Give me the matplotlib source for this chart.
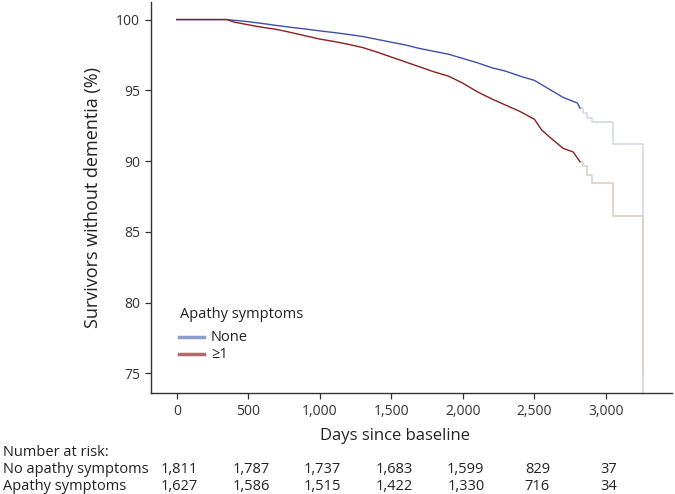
import matplotlib
matplotlib.use("Agg")
import matplotlib.pyplot as plt
import matplotlib.transforms as mtransforms
from matplotlib.lines import Line2D

plt.rcParams['font.family'] = ['Open Sans', 'DejaVu Sans']

# ---- data ----
days_none = [0, 350, 400, 500, 600, 700, 800, 900, 1000, 1100, 1200, 1300, 1400,
             1500, 1600, 1700, 1800, 1900, 2000, 2100, 2200, 2300, 2400, 2500,
             2600, 2700, 2750, 2800, 2818]
surv_none = [100, 100, 99.95, 99.85, 99.72, 99.58, 99.45, 99.33, 99.2, 99.08, 98.95,
             98.8, 98.6, 98.4, 98.2, 97.95, 97.75, 97.55, 97.25, 96.95, 96.6, 96.35,
             96.0, 95.7, 95.1, 94.5, 94.3, 94.1, 93.75]
tail_days_none = [2818, 2841, 2865, 2900, 3051, 3255]
tail_surv_none = [93.75, 93.41, 93.06, 92.75, 91.22, 73.0]

days_apathy = [0, 350, 400, 500, 600, 700, 800, 900, 1000, 1100, 1200, 1300, 1400,
               1500, 1600, 1700, 1800, 1900, 2000, 2100, 2200, 2300, 2400, 2500,
               2550, 2600, 2700, 2770, 2818]
surv_apathy = [100, 100, 99.82, 99.63, 99.45, 99.3, 99.08, 98.85, 98.62, 98.45, 98.25,
               98.02, 97.7, 97.35, 97.0, 96.65, 96.3, 96.0, 95.5, 94.9, 94.4, 93.95,
               93.5, 92.95, 92.2, 91.75, 90.9, 90.65, 89.96]
tail_days_apathy = [2818, 2841, 2865, 2900, 3051, 3255]
tail_surv_apathy = [89.96, 89.64, 89.05, 88.42, 86.11, 74.9]

xticks = [0, 500, 1000, 1500, 2000, 2500, 3000]
xtick_labels = ['0', '500', '1,000', '1,500', '2,000', '2,500', '3,000']
yticks = [75, 80, 85, 90, 95, 100]

legend_title = 'Apathy symptoms'
legend_labels = ['None', '\u22651']

risk_none = ['1,811', '1,787', '1,737', '1,683', '1,599', '829', '37']
risk_apathy = ['1,627', '1,586', '1,515', '1,422', '1,330', '716', '34']

# ---- styles ----
c_none = '#3d51a6'
c_apathy = '#8e1f1f'
c_none_tail = '#d3d9e6'
c_apathy_tail = '#dcd0c8'
c_none_leg = '#8c9bd2'
c_apathy_leg = '#b56a6a'

fig = plt.figure(figsize=(6.75, 4.94), dpi=100)
ax = fig.add_axes([151 / 675, 101 / 494, 521 / 675, 391 / 494])

ax.step(tail_days_none, tail_surv_none, where='post', color=c_none_tail, lw=1.2)
ax.step(tail_days_apathy, tail_surv_apathy, where='post', color=c_apathy_tail, lw=1.2)
ax.plot(days_none, surv_none, color=c_none, lw=1.0)
ax.plot(days_apathy, surv_apathy, color=c_apathy, lw=1.0)

ax.set_xlim(-180, 3461)
ax.set_ylim(73.62, 101.24)
ax.set_xticks(xticks)
ax.set_xticklabels(xtick_labels)
ax.set_yticks(yticks)
for s in ['top', 'right']:
    ax.spines[s].set_visible(False)
for s in ['left', 'bottom']:
    ax.spines[s].set_color('#333333')
    ax.spines[s].set_linewidth(1.0)
ax.tick_params(axis='both', direction='out', length=4, width=0.9, color='#333333',
               labelsize=10, labelcolor='#333333', pad=4)

ax.set_xlabel('Days since baseline', fontsize=12, color='#222222', labelpad=8)
ax.xaxis.set_label_coords((395 - 151) / 521, -0.09)
ax.set_ylabel('Survivors without dementia (%)', fontsize=13, color='#222222', labelpad=10)

# legend (placed in figure pixel positions matching the reference)
def fx(px):
    return px / 675
def fy(py):
    return 1 - py / 494

fig.text(fx(180), fy(314), legend_title, fontsize=10.5, va='center', ha='left', color='#222222')
for py, col, lab in zip([337, 354], [c_none_leg, c_apathy_leg], legend_labels):
    fig.add_artist(Line2D([fx(179), fx(204)], [fy(py), fy(py)], color=col, lw=2.5,
                          transform=fig.transFigure))
    fig.text(fx(211), fy(py), lab, fontsize=10.5, va='center', ha='left', color='#222222')

# Number at risk table
trans = mtransforms.blended_transform_factory(ax.transData, fig.transFigure)
fig.text(fx(3), fy(452), 'Number at risk:', fontsize=10.5, va='center', ha='left', color='#222222')
fig.text(fx(3), fy(469), 'No apathy symptoms', fontsize=10.5, va='center', ha='left', color='#222222')
fig.text(fx(3), fy(486), 'Apathy symptoms', fontsize=10.5, va='center', ha='left', color='#222222')
for d, a, b in zip(xticks, risk_none, risk_apathy):
    ax.text(d + 20, fy(469), a, transform=trans, fontsize=10.5, ha='center', va='center', color='#222222')
    ax.text(d + 20, fy(486), b, transform=trans, fontsize=10.5, ha='center', va='center', color='#222222')

fig.savefig('out.png', dpi=100)
